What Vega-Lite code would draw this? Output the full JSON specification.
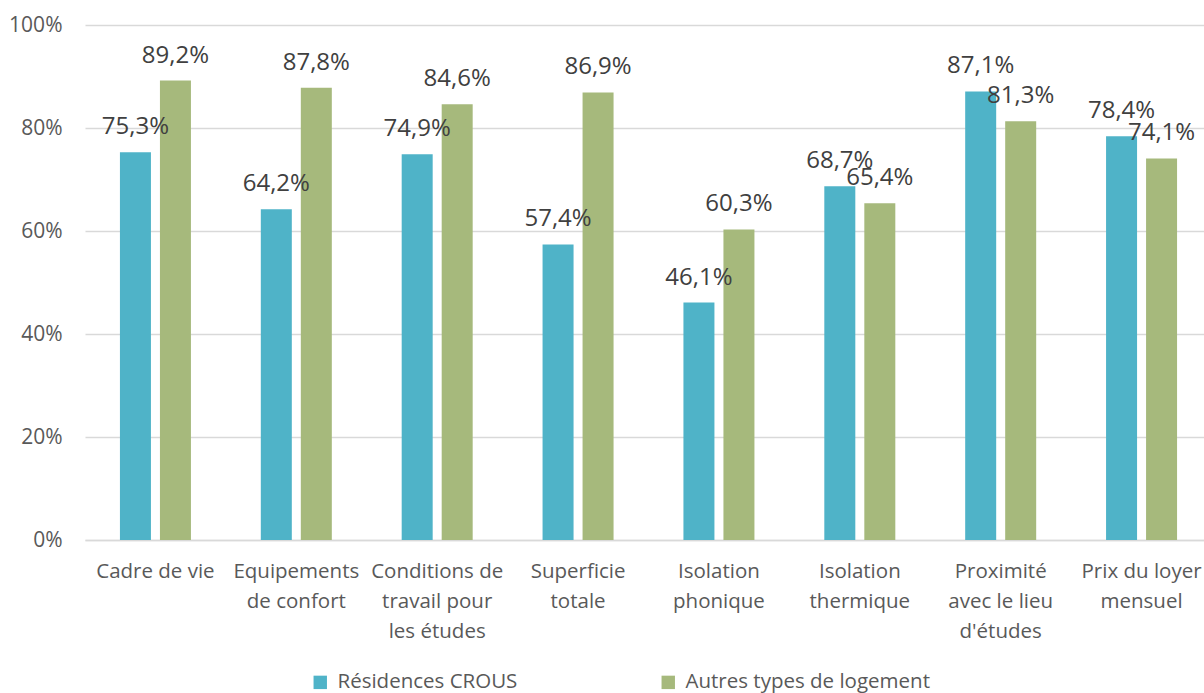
{
  "$schema": "https://vega.github.io/schema/vega-lite/v6.json",
  "width": 1119,
  "height": 515,
  "autosize": {"type": "none"},
  "padding": {"left": 85, "top": 25, "right": 0, "bottom": 153},
  "config": {
    "view": {"stroke": null},
    "font": "Open Sans",
    "locale": {"number": {"decimal": ",", "thousands": " ", "grouping": [3], "currency": ["", " €"]}}
  },
  "data": {
    "values": [
      {"categorie": "Cadre de vie", "type": "Résidences CROUS", "valeur": 0.753},
      {"categorie": "Cadre de vie", "type": "Autres types de logement", "valeur": 0.892},
      {"categorie": "Equipements|de confort", "type": "Résidences CROUS", "valeur": 0.642},
      {"categorie": "Equipements|de confort", "type": "Autres types de logement", "valeur": 0.878},
      {"categorie": "Conditions de|travail pour|les études", "type": "Résidences CROUS", "valeur": 0.749},
      {"categorie": "Conditions de|travail pour|les études", "type": "Autres types de logement", "valeur": 0.846},
      {"categorie": "Superficie|totale", "type": "Résidences CROUS", "valeur": 0.574},
      {"categorie": "Superficie|totale", "type": "Autres types de logement", "valeur": 0.869},
      {"categorie": "Isolation|phonique", "type": "Résidences CROUS", "valeur": 0.461},
      {"categorie": "Isolation|phonique", "type": "Autres types de logement", "valeur": 0.603},
      {"categorie": "Isolation|thermique", "type": "Résidences CROUS", "valeur": 0.687},
      {"categorie": "Isolation|thermique", "type": "Autres types de logement", "valeur": 0.654},
      {"categorie": "Proximité|avec le lieu|d'études", "type": "Résidences CROUS", "valeur": 0.871},
      {"categorie": "Proximité|avec le lieu|d'études", "type": "Autres types de logement", "valeur": 0.813},
      {"categorie": "Prix du loyer|mensuel", "type": "Résidences CROUS", "valeur": 0.784},
      {"categorie": "Prix du loyer|mensuel", "type": "Autres types de logement", "valeur": 0.741}
    ]
  },
  "encoding": {
    "x": {
      "field": "categorie",
      "type": "nominal",
      "sort": null,
      "scale": {"range": [0, 1127], "paddingInner": 0.496, "paddingOuter": 0.248},
      "axis": {
        "title": null,
        "labelAngle": 0,
        "labelExpr": "split(datum.value, '|')",
        "labelLineHeight": 30,
        "labelFontSize": 20.5,
        "labelColor": "#595959",
        "labelPadding": 21,
        "ticks": false,
        "domainColor": "#D9D9D9",
        "domainWidth": 1.5,
        "grid": false
      }
    },
    "xOffset": {
      "field": "type",
      "sort": null,
      "scale": {"paddingInner": 0.225, "paddingOuter": 0}
    },
    "y": {
      "field": "valeur",
      "type": "quantitative",
      "scale": {"domain": [0, 1]},
      "axis": {
        "title": null,
        "values": [0, 0.2, 0.4, 0.6, 0.8, 1],
        "format": ".0%",
        "domain": false,
        "ticks": false,
        "labelPadding": 23,
        "labelFontSize": 21,
        "labelColor": "#595959",
        "gridColor": "#D9D9D9",
        "gridWidth": 1.3
      }
    }
  },
  "layer": [
    {
      "mark": {"type": "bar"},
      "encoding": {
        "color": {
          "field": "type",
          "type": "nominal",
          "sort": null,
          "scale": {"domain": ["Résidences CROUS", "Autres types de logement"], "range": ["#4FB3C8", "#A6B97C"]},
          "legend": {
            "title": null,
            "orient": "none",
            "legendX": 225,
            "legendY": 647,
            "direction": "horizontal",
            "symbolType": "square",
            "symbolSize": 180,
            "symbolStrokeWidth": 0,
            "labelFontSize": 20.5,
            "labelColor": "#595959",
            "labelOffset": 7,
            "labelLimit": 0,
            "columnPadding": 140
          }
        }
      }
    },
    {
      "mark": {"type": "text", "baseline": "alphabetic", "dy": -18, "fontSize": 24, "color": "#404040"},
      "encoding": {
        "text": {"field": "valeur", "type": "quantitative", "format": ".1%"}
      }
    }
  ]
}
